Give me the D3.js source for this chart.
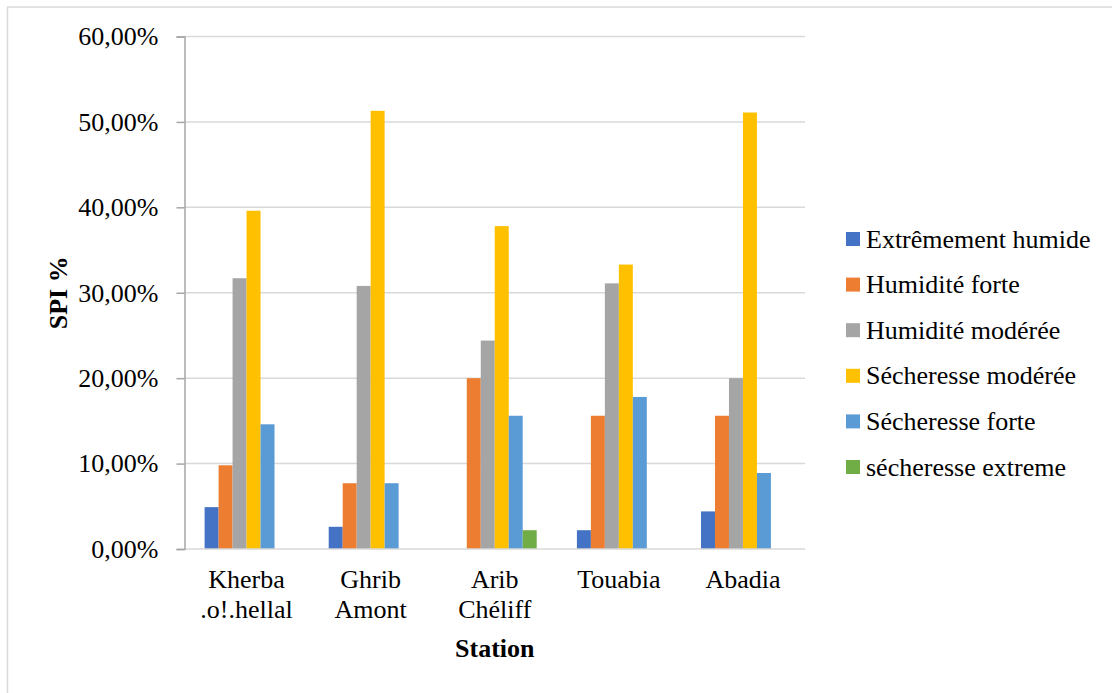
<!DOCTYPE html>
<html>
<head>
<meta charset="utf-8">
<script src="https://cdn.jsdelivr.net/npm/d3@7"></script>
<style>
  html, body { margin: 0; padding: 0; background: #fff; }
  svg { display: block; }
  text { font-family: "Liberation Serif", "Times New Roman", serif; fill: #000; }
</style>
</head>
<body>
<svg id="chart" width="1112" height="693"></svg>
<script>
const stations = ["Kherba\n.o!.hellal", "Ghrib\nAmont", "Arib\nChéliff", "Touabia", "Abadia"];
const seriesNames = ["Extrêmement humide", "Humidité forte", "Humidité modérée", "Sécheresse modérée", "Sécheresse forte", "sécheresse extreme"];
const seriesColors = ["#4472C4", "#ED7D31", "#A5A5A5", "#FFC000", "#5B9BD5", "#70AD47"];
const extremementHumide = [0.049, 0.026, 0.000, 0.022, 0.044];
const humiditeForte     = [0.098, 0.077, 0.200, 0.156, 0.156];
const humiditeModeree   = [0.317, 0.308, 0.244, 0.311, 0.200];
const secheresseModeree = [0.396, 0.513, 0.378, 0.333, 0.511];
const secheresseForte   = [0.146, 0.077, 0.156, 0.178, 0.089];
const secheresseExtreme = [0.000, 0.000, 0.022, 0.000, 0.000];
const yTicks = [0, 0.1, 0.2, 0.3, 0.4, 0.5, 0.6];
const yTitle = "SPI %";
const xTitle = "Station";

const seriesValues = [extremementHumide, humiditeForte, humiditeModeree, secheresseModeree, secheresseForte, secheresseExtreme];

const svg = d3.select("#chart");
const fontSize = 26;

// outer chart border (top & left visible)
svg.append("rect")
  .attr("x", 7.5).attr("y", 7)
  .attr("width", 1300).attr("height", 900)
  .attr("fill", "none").attr("stroke", "#d9d9d9").attr("stroke-width", 1.5);

const plot = { left: 184.5, right: 805, top: 36.5, bottom: 549 };

const y = d3.scaleLinear().domain([0, 0.6]).range([plot.bottom, plot.top]);
const x0 = d3.scaleBand().domain(stations).range([plot.left, plot.right]).padding(0);
const bw = x0.bandwidth();
const gap = bw * 0.162;
const x1 = d3.scaleBand().domain(seriesNames).range([gap, bw - gap]).padding(0);
const color = d3.scaleOrdinal().domain(seriesNames).range(seriesColors);

// gridlines
svg.append("g").selectAll("line")
  .data(yTicks.filter(t => t > 0))
  .join("line")
  .attr("x1", plot.left).attr("x2", plot.right)
  .attr("y1", d => y(d)).attr("y2", d => y(d))
  .attr("stroke", "#d9d9d9").attr("stroke-width", 1.5);

// bars
const groups = svg.append("g").selectAll("g")
  .data(stations)
  .join("g")
  .attr("transform", d => `translate(${x0(d)},0)`);

groups.selectAll("rect")
  .data((d, i) => seriesNames.map((s, k) => ({ s, v: seriesValues[k][i] })))
  .join("rect")
  .attr("x", d => x1(d.s))
  .attr("width", x1.bandwidth())
  .attr("y", d => y(d.v))
  .attr("height", d => y(0) - y(d.v))
  .attr("fill", d => color(d.s));

// x axis line
svg.append("line")
  .attr("x1", plot.left).attr("x2", plot.right)
  .attr("y1", y(0)).attr("y2", y(0))
  .attr("stroke", "#d9d9d9").attr("stroke-width", 1.5);

// y axis
const yAxis = d3.axisLeft(y)
  .tickValues(yTicks)
  .tickSize(8)
  .tickPadding(18)
  .tickFormat(d => d3.format(".2f")(d * 100).replace(".", ",") + "%");

const gy = svg.append("g")
  .attr("transform", `translate(${plot.left},0)`)
  .call(yAxis);
gy.select(".domain").attr("stroke", "#a6a6a6").attr("stroke-width", 1.5);
gy.selectAll(".tick line").attr("stroke", "#a6a6a6").attr("stroke-width", 1.5);
gy.selectAll(".tick text")
  .style("font-family", '"Liberation Serif", "Times New Roman", serif')
  .style("font-size", fontSize + "px")
  .attr("fill", "#000");

// x labels
const xl = svg.append("g").selectAll("text")
  .data(stations)
  .join("text")
  .attr("x", d => x0(d) + bw / 2)
  .attr("y", 588)
  .attr("text-anchor", "middle")
  .style("font-size", fontSize + "px");
xl.selectAll("tspan")
  .data(d => d.split("\n"))
  .join("tspan")
  .attr("x", function () { return d3.select(this.parentNode).attr("x"); })
  .attr("dy", (d, i) => i === 0 ? 0 : 29.5)
  .text(d => d);

// axis titles
svg.append("text")
  .attr("x", (plot.left + plot.right) / 2)
  .attr("y", 657)
  .attr("text-anchor", "middle")
  .style("font-size", fontSize + "px")
  .style("font-weight", "bold")
  .text(xTitle);

svg.append("text")
  .attr("transform", `translate(67,${(plot.top + plot.bottom) / 2}) rotate(-90)`)
  .attr("text-anchor", "middle")
  .style("font-size", fontSize + "px")
  .style("font-weight", "bold")
  .text(yTitle);

// legend
const leg = svg.append("g").selectAll("g")
  .data(seriesNames)
  .join("g")
  .attr("transform", (d, i) => `translate(846,${239 + i * 45.6})`);
leg.append("rect")
  .attr("x", 0).attr("y", -7)
  .attr("width", 14).attr("height", 14)
  .attr("fill", d => color(d));
leg.append("text")
  .attr("x", 20)
  .attr("y", 0)
  .attr("dy", "0.33em")
  .style("font-size", fontSize + "px")
  .text(d => d);
</script>
</body>
</html>
